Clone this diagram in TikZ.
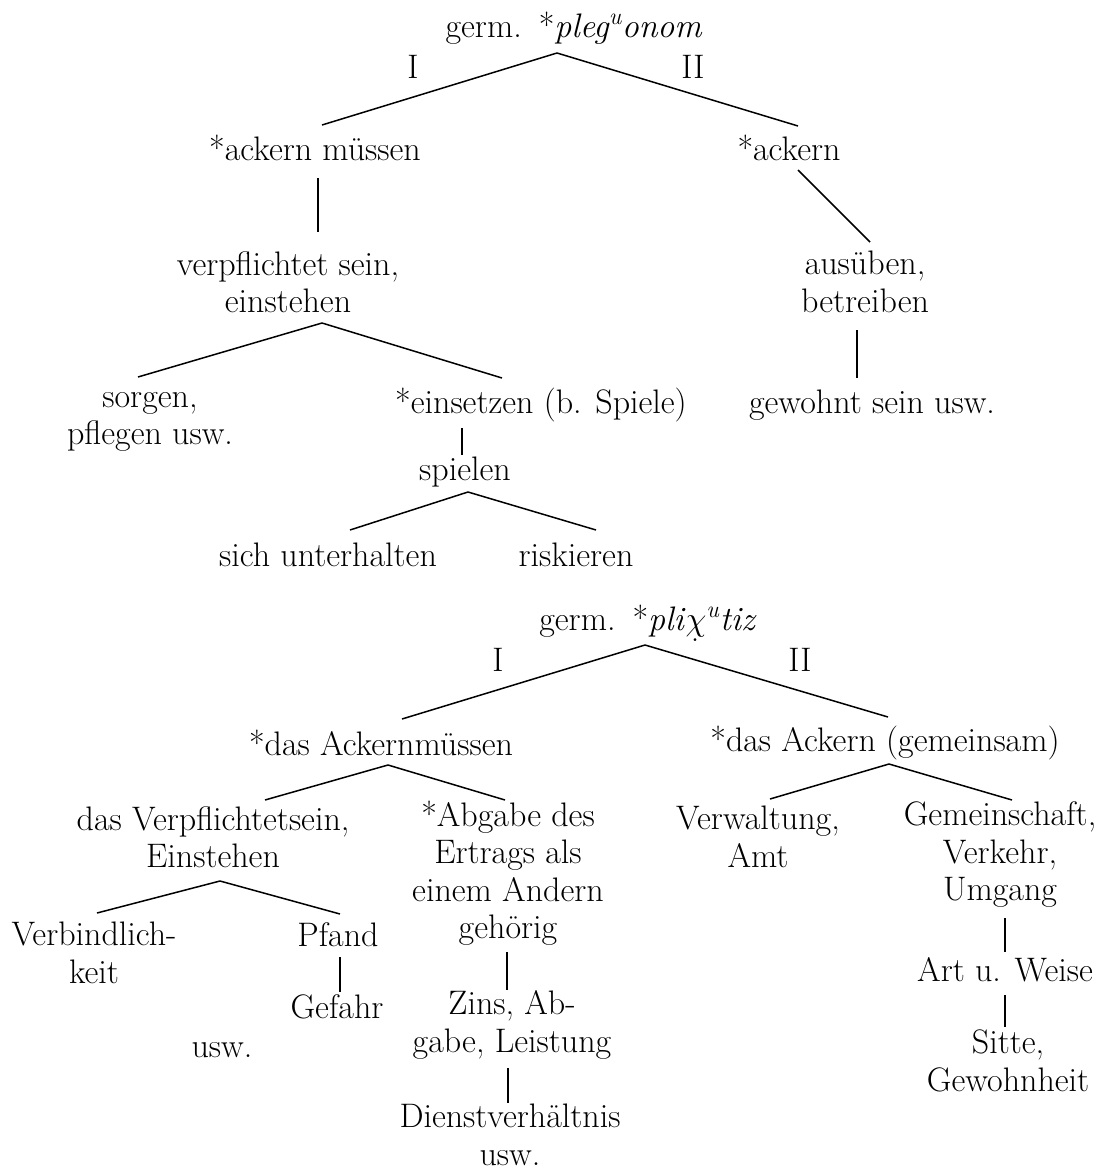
\RequirePackage{fix-cm}
\documentclass[tikz,border=0pt]{standalone}
\usepackage{fontspec}
\usetikzlibrary{calc}
\newcommand{\chidot}{\ooalign{$\chi$\cr\hidewidth\raisebox{-0.32em}{.}\kern0.05em\hidewidth\cr}}
\begin{document}
\begin{tikzpicture}[x=1pt,y=-1pt,
  every node/.style={inner sep=0pt, font=\fontsize{34}{37.5}\selectfont, align=center},
  conn/.style={line width=1.5pt}]
\useasboundingbox (0,0) rectangle (1115,1172);
% ---------- first tree ----------
\node (root) at (574,28) {germ.\enspace*\textit{pleg\textsuperscript{u}onom}};
\node (rI) at (413,67) {I};
\node (rII) at (693,67) {II};
\node (ack1) at (315,148) {*ackern müssen};
\node (ack2) at (789,148) {*ackern};
\node (verpf) at (288,282) {verpflichtet sein,\\einstehen};
\node (aus) at (865,282) {ausüben,\\betreiben};
\node (gew) at (872,405) {gewohnt sein usw.};
\node (sorg) at (150,422) {sorgen,\\pflegen usw.};
\node (eins) at (541,405) {*einsetzen (b. Spiele)};
\node (spiel) at (465,472) {spielen};
\node (sich) at (328,555) {sich unterhalten};
\node (risk) at (576,555) {riskieren};
\draw[conn] ($(root)+(-17,25)$) -- ($(ack1)+(7,-23)$);
\draw[conn] ($(root)+(-17,25)$) -- ($(ack2)+(9,-22)$);
\draw[conn] ($(ack1)+(3,30)$) -- ($(verpf)+(30,-50)$);
\draw[conn] ($(ack2)+(9,22)$) -- ($(aus)+(5,-40)$);
\draw[conn] ($(aus)+(-8,48)$) -- ($(gew)+(-15,-27)$);
\draw[conn] ($(verpf)+(34,41)$) -- ($(sorg)+(-12,-45)$);
\draw[conn] ($(verpf)+(34,41)$) -- ($(eins)+(-39,-27)$);
\draw[conn] ($(eins)+(-79,23)$) -- ($(spiel)+(-3,-17)$);
\draw[conn] ($(spiel)+(3,20)$) -- ($(sich)+(22,-25)$);
\draw[conn] ($(spiel)+(3,20)$) -- ($(risk)+(20,-25)$);
% ---------- second tree ----------
\node (root2) at (648,623) {germ.\enspace*\textit{pli}\chidot\textsuperscript{\textit{u}}\textit{tiz}};
\node (sI) at (498,660) {I};
\node (sII) at (800,660) {II};
\node (dam) at (381,743) {*das Ackernmüssen};
\node (dag) at (885,743) {*das Ackern (gemeinsam)};
\node (vsein) at (213,837) {das Verpflichtetsein,\\Einstehen};
\node (abg) at (508,873) {*Abgabe des\\Ertrags als\\einem Andern\\gehörig};
\node (verw) at (758,837) {Verwaltung,\\Amt};
\node (gem) at (1000,855) {Gemeinschaft,\\Verkehr,\\Umgang};
\node (verb) at (94,953) {Verbindlich-\\keit};
\node (pfand) at (338,935) {Pfand};
\node (gef) at (337,1007) {Gefahr};
\node (usw) at (222,1050) {usw.};
\node (zins) at (512,1025) {Zins, Ab-\\gabe, Leistung};
\node (dienst) at (510,1135) {Dienstverhältnis\\usw.};
\node (art) at (1005,970) {Art u. Weise};
\node (sitte) at (1008,1061) {Sitte,\\Gewohnheit};
\draw[conn] ($(root2)+(-3,22)$) -- ($(dam)+(21,-24)$);
\draw[conn] ($(root2)+(-3,22)$) -- ($(dag)+(3,-26)$);
\draw[conn] ($(dam)+(7,22)$) -- ($(vsein)+(52,-37)$);
\draw[conn] ($(dam)+(7,22)$) -- ($(abg)+(-3,-73)$);
\draw[conn] ($(dag)+(4,21)$) -- ($(verw)+(12,-38)$);
\draw[conn] ($(dag)+(4,21)$) -- ($(gem)+(12,-55)$);
\draw[conn] ($(vsein)+(7,44)$) -- ($(verb)+(3,-40)$);
\draw[conn] ($(vsein)+(7,44)$) -- ($(pfand)+(2,-21)$);
\draw[conn] ($(pfand)+(2,22)$) -- ($(gef)+(3,-15)$);
\draw[conn] ($(abg)+(-1,79)$) -- ($(zins)+(-5,-35)$);
\draw[conn] ($(zins)+(-4,43)$) -- ($(dienst)+(-2,-32)$);
\draw[conn] ($(gem)+(5,63)$) -- ($(art)+(0,-18)$);
\draw[conn] ($(art)+(0,25)$) -- ($(sitte)+(-3,-34)$);
\end{tikzpicture}
\end{document}
